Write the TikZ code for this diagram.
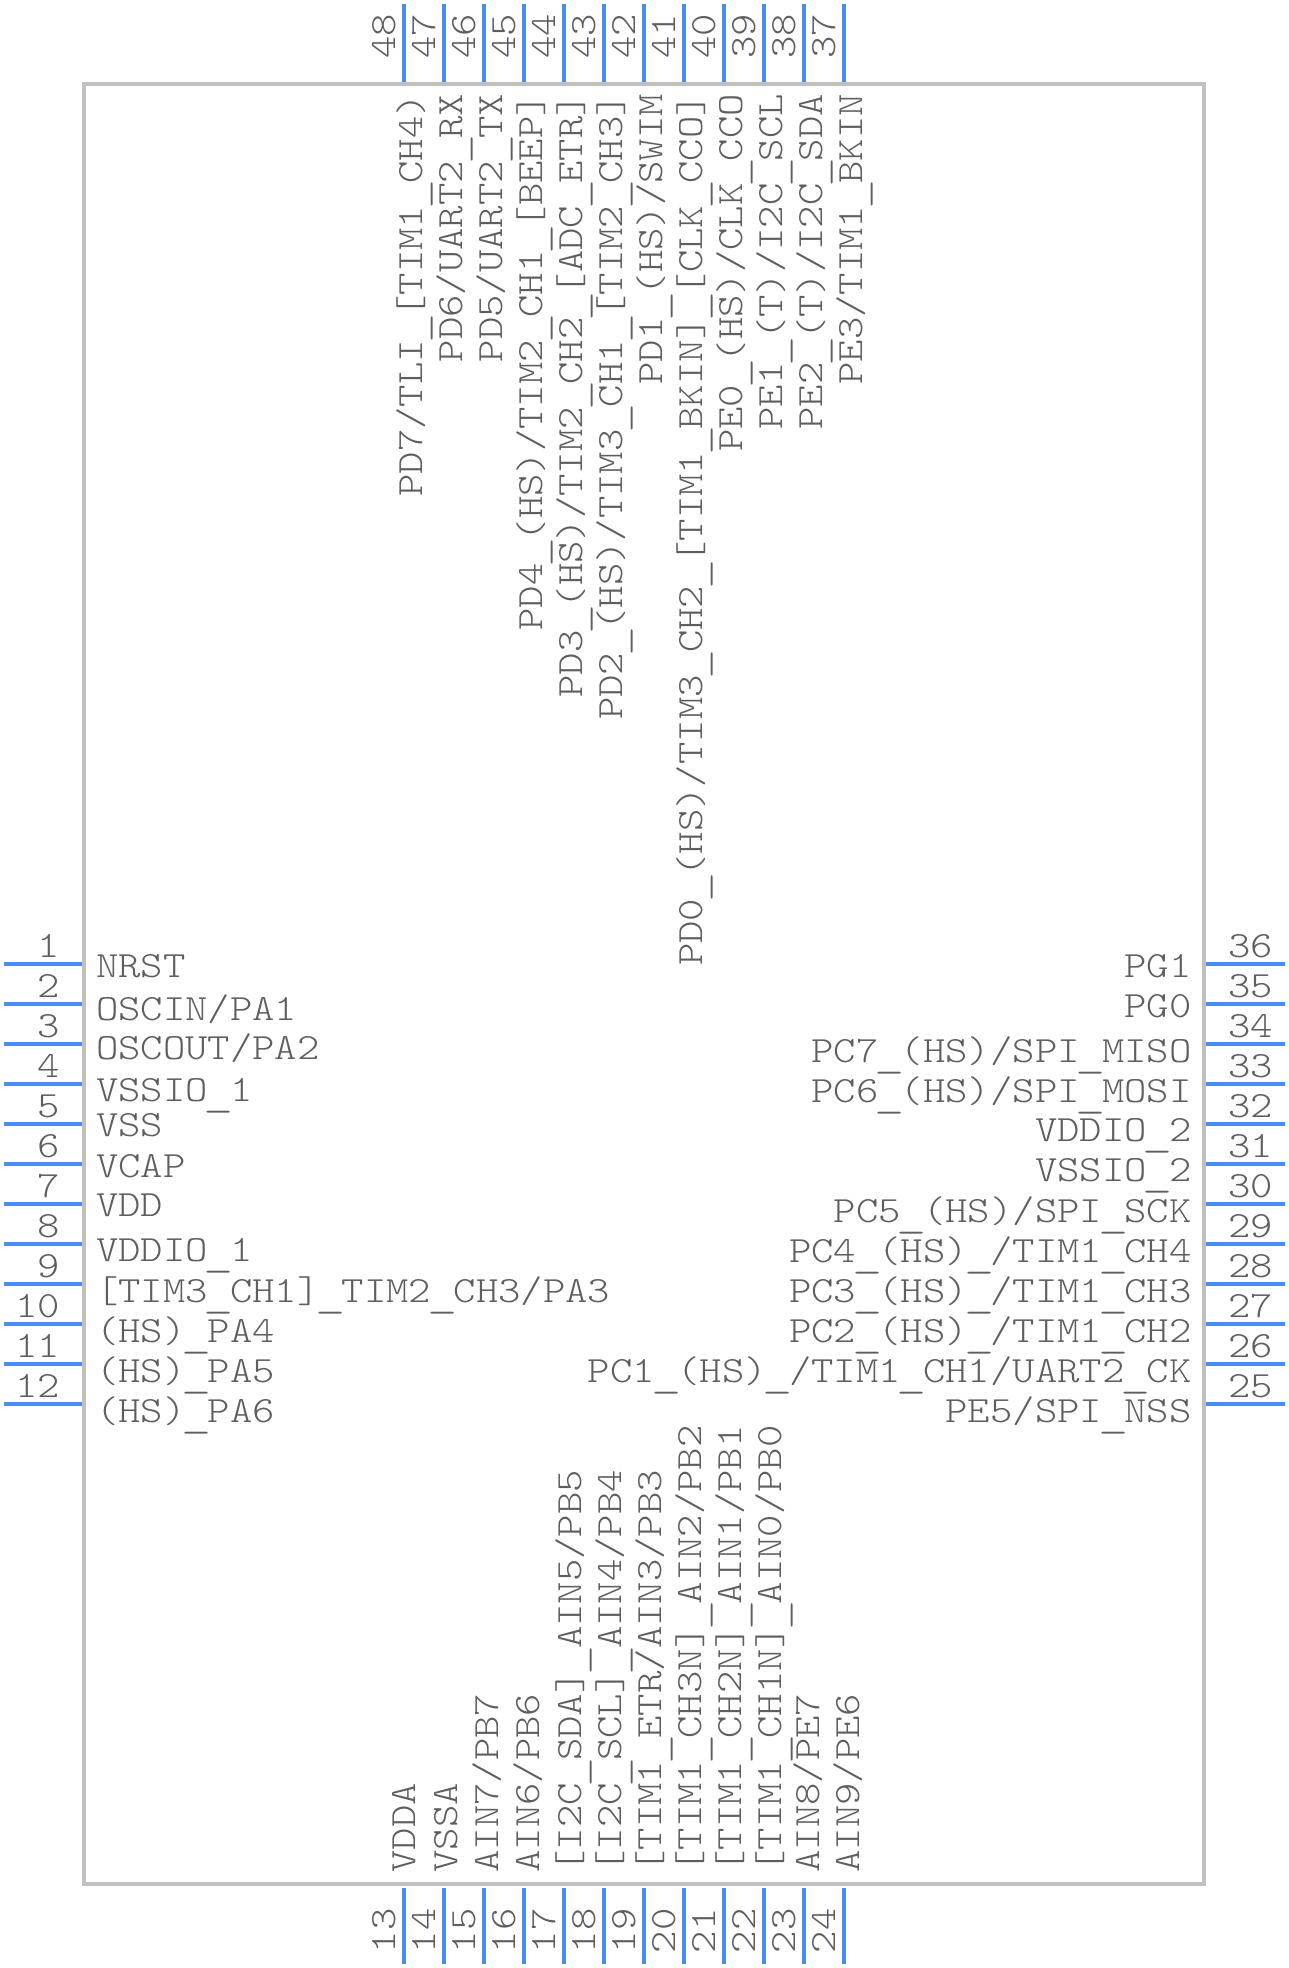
\documentclass[tikz,border=0pt]{standalone}
\usepackage{graphicx}
\usepackage{fontspec}
\setmonofont[FakeStretch=1.151]{Latin Modern Mono Light}
\renewcommand{\_}{\makebox[.604em][c]{\raisebox{-.13em}{\scalebox{1.35}[1]{\textunderscore}}}}
\definecolor{pinblue}{HTML}{4A8CF7}
\definecolor{boxgrey}{HTML}{C0C0C0}
\definecolor{txtgrey}{HTML}{5E5E5E}
\tikzset{
  pinline/.style={draw=pinblue,line width=4.4pt},
  chipbox/.style={draw=boxgrey,line width=4pt,minimum width=1120pt,minimum height=1800pt,inner sep=0pt,rectangle},
  lab/.style={text=txtgrey,inner sep=0pt,outer sep=0pt,font=\fontsize{37}{40}\selectfont\ttfamily},
  ll/.style={lab,anchor=base west,yshift=-1pt},
  rl/.style={lab,anchor=base east,xshift=1.5pt,yshift=-1pt},
  tl/.style={lab,anchor=base east,rotate=90,xshift=1pt},
  bl/.style={lab,anchor=base west,rotate=90,xshift=0.5pt},
}
\begin{document}
\begin{tikzpicture}[x=1pt,y=-1pt]
\fill[white] (0,0) rectangle (1288,1968);
\useasboundingbox (0,0) rectangle (1288,1968);
\node[chipbox] (chip) at (644,984) {};
% pins and numbers: left
\foreach \i in {1,...,12}{
  \pgfmathsetmacro{\py}{964+40*(\i-1)}
  \coordinate (p\i-a) at (4,\py);
  \coordinate (p\i-b) at (82,\py);
  \draw[pinline] (p\i-a) -- (p\i-b);
  \pgfmathsetmacro{\ny}{\py-8}
  \node[rl] (n\i) at (58.5,\ny) {\i};
}
% bottom
\foreach \i in {13,...,24}{
  \pgfmathsetmacro{\px}{404+40*(\i-13)}
  \coordinate (p\i-a) at (\px,1888);
  \coordinate (p\i-b) at (\px,1964);
  \draw[pinline] (p\i-a) -- (p\i-b);
  \pgfmathsetmacro{\nx}{\px-8.5}
  \node[bl] (n\i) at (\nx,1953.5) {\i};
}
% right
\foreach \i in {25,...,36}{
  \pgfmathsetmacro{\py}{1404-40*(\i-25)}
  \coordinate (p\i-a) at (1206,\py);
  \coordinate (p\i-b) at (1285,\py);
  \draw[pinline] (p\i-a) -- (p\i-b);
  \pgfmathsetmacro{\ny}{\py-7.5}
  \node[ll] (n\i) at (1228,\ny) {\i};
}
% top
\foreach \i in {37,...,48}{
  \pgfmathsetmacro{\px}{844-40*(\i-37)}
  \coordinate (p\i-a) at (\px,4);
  \coordinate (p\i-b) at (\px,82);
  \draw[pinline] (p\i-a) -- (p\i-b);
  \pgfmathsetmacro{\nx}{\px-8.5}
  \node[bl] (n\i) at (\nx,59) {\i};
}
% left labels
\node[ll] (l1) at (96,976) {NRST};
\node[ll] (l2) at (96,1019) {OSCIN/PA1};
\node[ll] (l3) at (96,1058.5) {OSCOUT/PA2};
\node[ll] (l4) at (96,1100.5) {VSSIO\_1};
\node[ll] (l5) at (96,1135.5) {VSS};
\node[ll] (l6) at (96,1176) {VCAP};
\node[ll] (l7) at (96,1215) {VDD};
\node[ll] (l8) at (96,1260.5) {VDDIO\_1};
\node[ll] (l9) at (96,1301.5) {[TIM3\_CH1]\_TIM2\_CH3/PA3};
\node[ll] (l10) at (96,1341.5) {(HS)\_PA4};
\node[ll] (l11) at (96,1381.5) {(HS)\_PA5};
\node[ll] (l12) at (96,1421.5) {(HS)\_PA6};
% right labels
\node[rl] (l36) at (1190,976.5) {PG1};
\node[rl] (l35) at (1190,1016.5) {PG0};
\node[rl] (l34) at (1190,1061.5) {PC7\_(HS)/SPI\_MISO};
\node[rl] (l33) at (1190,1101.5) {PC6\_(HS)/SPI\_MOSI};
\node[rl] (l32) at (1190,1140.5) {VDDIO\_2};
\node[rl] (l31) at (1190,1180.5) {VSSIO\_2};
\node[rl] (l30) at (1190,1221.5) {PC5\_(HS)/SPI\_SCK};
\node[rl] (l29) at (1190,1261.5) {PC4\_(HS)\_/TIM1\_CH4};
\node[rl] (l28) at (1190,1301.5) {PC3\_(HS)\_/TIM1\_CH3};
\node[rl] (l27) at (1190,1341.5) {PC2\_(HS)\_/TIM1\_CH2};
\node[rl] (l26) at (1190,1381.5) {PC1\_(HS)\_/TIM1\_CH1/UART2\_CK};
\node[rl] (l25) at (1190,1421.5) {PE5/SPI\_NSS};
% top labels
\node[tl] (l48) at (422,95) {PD7/TLI\_[TIM1\_CH4)};
\node[tl] (l47) at (462,95) {PD6/UART2\_RX};
\node[tl] (l46) at (502,95) {PD5/UART2\_TX};
\node[tl] (l45) at (542,95) {PD4\_(HS)/TIM2\_CH1\_[BEEP]};
\node[tl] (l44) at (582,95) {PD3\_(HS)/TIM2\_CH2\_[ADC\_ETR]};
\node[tl] (l43) at (622,95) {PD2\_(HS)/TIM3\_CH1\_[TIM2\_CH3]};
\node[tl] (l42) at (662,95) {PD1\_(HS)/SWIM};
\node[tl] (l41) at (702,95) {PD0\_(HS)/TIM3\_CH2\_[TIM1\_BKIN]\_[CLK\_CCO]};
\node[tl] (l40) at (742,95) {PE0\_(HS)/CLK\_CCO};
\node[tl] (l39) at (782,95) {PE1\_(T)/I2C\_SCL};
\node[tl] (l38) at (822,95) {PE2\_(T)/I2C\_SDA};
\node[tl] (l37) at (862,95) {PE3/TIM1\_BKIN};
% bottom labels
\node[bl] (l13) at (415,1873) {VDDA};
\node[bl] (l14) at (457,1873) {VSSA};
\node[bl] (l15) at (498,1873) {AIN7/PB7};
\node[bl] (l16) at (539,1873) {AIN6/PB6};
\node[bl] (l17) at (581,1873) {[I2C\_SDA]\_AIN5/PB5};
\node[bl] (l18) at (621.5,1873) {[I2C\_SCL]\_AIN4/PB4};
\node[bl] (l19) at (661.5,1873) {[TIM1\_ETR/AIN3/PB3};
\node[bl] (l20) at (701.5,1873) {[TIM1\_CH3N]\_AIN2/PB2};
\node[bl] (l21) at (741.5,1873) {[TIM1\_CH2N]\_AIN1/PB1};
\node[bl] (l22) at (781.5,1873) {[TIM1\_CH1N]\_AIN0/PB0};
\node[bl] (l23) at (819,1873) {AIN8/PE7};
\node[bl] (l24) at (859,1873) {AIN9/PE6};
\end{tikzpicture}
\end{document}
